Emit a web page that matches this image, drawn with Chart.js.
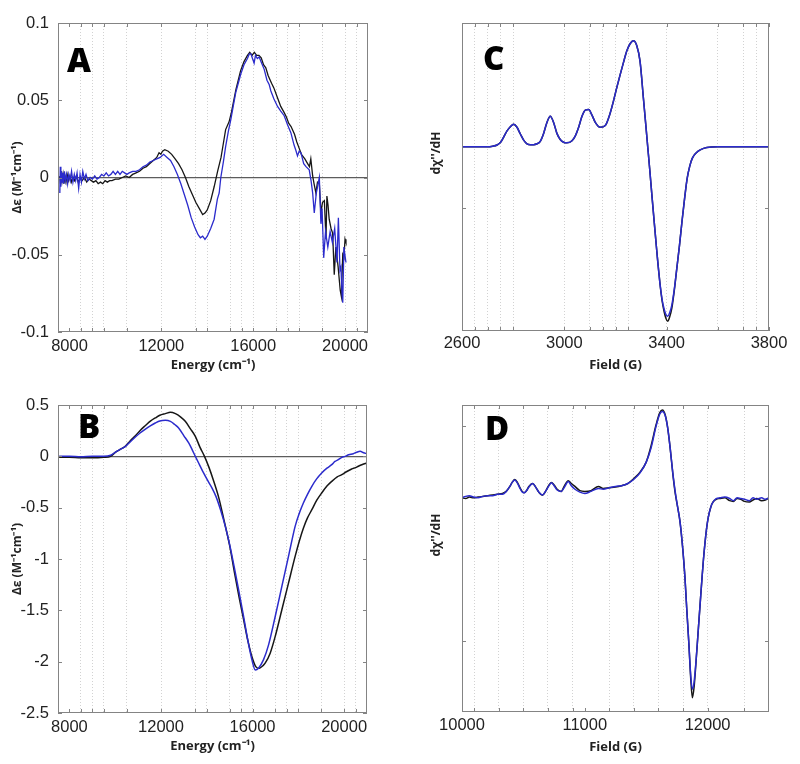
<!DOCTYPE html>
<html>
<head>
<meta charset="utf-8">
<script src="https://cdn.jsdelivr.net/npm/chart.js@4.4.0/dist/chart.umd.min.js"></script>
<style>
  body { margin: 0; background: #fff; }
  #wrap { position: relative; width: 800px; height: 764px; }
  canvas { position: absolute; }
  .lbl { position: absolute; font-family: "Open Sans", sans-serif; font-weight: 800; font-size: 33px; line-height: 1; color: #000; }
  .ytl { position: absolute; font-family: "Open Sans", sans-serif; font-weight: 700; font-size: 12px; color: #222;
         white-space: nowrap; transform: translate(-50%, -50%) rotate(-90deg); }
</style>
</head>
<body>
<div id="wrap">
  <canvas id="cA" width="400" height="382" style="left:0;top:0"></canvas>
  <canvas id="cC" width="400" height="382" style="left:400px;top:0"></canvas>
  <canvas id="cB" width="400" height="382" style="left:0;top:382px"></canvas>
  <canvas id="cD" width="400" height="382" style="left:400px;top:382px"></canvas>
  <div class="lbl" style="left:67px;top:43px">A</div>
  <div class="lbl" style="left:483px;top:41px">C</div>
  <div class="lbl" style="left:78px;top:409px">B</div>
  <div class="lbl" style="left:485px;top:411px">D</div>
  <div class="ytl" style="left:435px;top:153px">dχ''/dH</div>
  <div class="ytl" style="left:435px;top:535px">dχ''/dH</div>
</div>
<script>
// ---- panel A: CD, black and blue traces ----
var energyAk = [7580,7610,7640,7680,7720,7760,7800,7850,7900,7960,8020,8080,8150,8220,8300,8380,8460,8550,8650,8750,8850,8950,9050,9150,9250,9350,9450,9550,9650,9750,9850,10000,10150,10300,10450,10600,10750,10900,11050,11200,11350,11500,11650,11800,11900,11980,12050,12150,12300,12450,12600,12750,12900,13050,13200,13350,13500,13650,13800,13900,14000,14150,14300,14450,14600,14700,14800,14950,15050,15250,15450,15600,15750,15850,15950,16050,16150,16250,16350,16450,16550,16650,16800,16900,17050,17200,17350,17450,17550,17650,17800,17900,18000,18100,18250,18370,18450,18510,18590,18650,18730,18800,18880,18950,19020,19100,19170,19210,19260,19310,19390,19460,19530,19600,19700,19790,19840,19900,19950,20000,20040];
var deltaAk = [0.001,-0.004,0.004,-0.002,0.002,-0.004,0.001,-0.003,0.002,-0.002,0.001,-0.003,0.000,-0.002,0.001,-0.003,-0.001,-0.002,0.000,-0.003,-0.001,-0.002,-0.003,-0.002,-0.004,-0.003,-0.004,-0.002,-0.003,-0.002,-0.002,-0.001,-0.001,0.000,0.001,0.000,0.002,0.003,0.004,0.006,0.007,0.009,0.011,0.013,0.016,0.015,0.017,0.018,0.017,0.015,0.012,0.009,0.005,0.000,-0.006,-0.011,-0.016,-0.020,-0.024,-0.023,-0.021,-0.015,-0.006,0.004,0.013,0.022,0.031,0.036,0.042,0.057,0.069,0.075,0.079,0.081,0.079,0.081,0.079,0.079,0.0775,0.073,0.071,0.066,0.061,0.058,0.052,0.046,0.042,0.039,0.035,0.033,0.028,0.023,0.019,0.015,0.012,0.009,0.007,0.012,0.001,-0.004,-0.010,-0.003,-0.004,-0.023,-0.016,-0.015,-0.040,-0.012,-0.018,-0.027,-0.033,-0.036,-0.063,-0.045,-0.058,-0.073,-0.077,-0.050,-0.052,-0.040,-0.042];
var energyAb = [7580,7600,7625,7650,7680,7710,7740,7780,7820,7870,7920,7970,8030,8090,8150,8210,8270,8330,8400,8460,8520,8580,8650,8720,8800,8900,9000,9100,9200,9300,9400,9500,9600,9700,9800,9900,10000,10100,10200,10300,10400,10500,10600,10750,10900,11050,11200,11350,11500,11650,11800,11950,12100,12250,12400,12550,12700,12850,13000,13150,13300,13450,13600,13700,13800,13900,14000,14150,14300,14440,14520,14590,14700,14800,14920,15020,15130,15240,15350,15460,15600,15750,15830,15900,15970,16040,16100,16180,16260,16370,16480,16600,16700,16770,16900,17060,17200,17350,17500,17640,17780,17850,17930,18000,18080,18200,18300,18440,18520,18590,18660,18750,18880,18950,19000,19070,19150,19250,19350,19450,19550,19650,19710,19780,19820,19870,19900,19950,20040];
var deltaAb = [-0.010,0.007,-0.006,0.004,-0.003,0.003,-0.004,0.004,-0.002,0.002,-0.004,0.002,-0.002,0.004,-0.003,0.002,-0.002,0.003,-0.007,0.002,-0.003,0.004,-0.001,0.002,-0.002,0.000,-0.001,0.001,-0.001,0.000,0.002,0.001,0.003,0.001,0.002,0.004,0.002,0.004,0.002,0.004,0.003,0.002,0.003,0.004,0.004,0.005,0.007,0.008,0.010,0.011,0.012,0.013,0.015,0.013,0.011,0.007,0.002,-0.004,-0.011,-0.018,-0.026,-0.032,-0.037,-0.039,-0.038,-0.040,-0.038,-0.033,-0.027,-0.014,-0.010,0.000,0.010,0.020,0.030,0.037,0.046,0.055,0.061,0.067,0.073,0.077,0.080,0.080,0.077,0.074,0.079,0.077,0.078,0.074,0.070,0.063,0.060,0.056,0.051,0.046,0.043,0.040,0.034,0.029,0.021,0.018,0.014,0.017,0.016,0.009,0.007,0.005,-0.002,-0.010,-0.023,-0.010,0.000,-0.030,-0.020,-0.052,-0.035,-0.045,-0.035,-0.042,-0.033,-0.055,-0.026,-0.060,-0.058,-0.075,-0.081,-0.045,-0.055];

// ---- panel B ----
var energyBk = [7550,8000,8500,9000,9500,9800,10000,10200,10450,10650,10880,11100,11320,11550,11750,11950,12190,12410,12630,12850,13060,13280,13500,13700,13900,14100,14300,14520,14750,15000,15200,15400,15600,15800,15970,16120,16250,16330,16450,16550,16770,16990,17280,17570,17860,18050,18220,18400,18590,18800,19020,19250,19460,19700,19900,20100,20330,20500,20620,20800,20990];
var deltaBk = [-0.01,-0.01,-0.015,-0.015,-0.01,0.0,0.039,0.065,0.10,0.15,0.20,0.255,0.30,0.345,0.374,0.40,0.416,0.429,0.416,0.385,0.341,0.27,0.195,0.09,0.0,-0.11,-0.24,-0.40,-0.62,-0.87,-1.12,-1.36,-1.58,-1.80,-1.95,-2.04,-2.065,-2.06,-2.04,-2.015,-1.917,-1.754,-1.494,-1.235,-0.975,-0.82,-0.70,-0.60,-0.52,-0.43,-0.357,-0.29,-0.244,-0.20,-0.179,-0.15,-0.123,-0.11,-0.097,-0.08,-0.065];
var energyBb = [7550,8000,8500,9000,9500,9800,10000,10200,10450,10650,10880,11100,11320,11550,11750,11950,12190,12410,12600,12770,13000,13210,13350,13500,13700,13860,14050,14230,14400,14600,14810,15000,15200,15400,15600,15800,15970,16120,16260,16480,16700,16990,17280,17570,17860,18050,18220,18400,18590,18800,19020,19250,19460,19600,19750,19900,20040,20200,20400,20550,20700,20850,20990];
var deltaBb = [0.0,0.0,-0.005,0.0,0.0,0.01,0.039,0.065,0.097,0.14,0.188,0.23,0.266,0.30,0.325,0.345,0.351,0.341,0.31,0.276,0.20,0.13,0.07,0.0,-0.09,-0.162,-0.24,-0.309,-0.39,-0.52,-0.682,-0.86,-1.08,-1.31,-1.55,-1.80,-1.98,-2.08,-2.063,-1.98,-1.836,-1.56,-1.267,-0.975,-0.682,-0.55,-0.455,-0.37,-0.292,-0.22,-0.162,-0.115,-0.081,-0.05,-0.032,-0.01,0.0,0.015,0.026,0.04,0.049,0.035,0.026];

// ---- panel C: EPR (X band) ----
var fieldC = [2600,2700,2720,2737,2750,2763,2776,2789,2802,2815,2828,2841,2854,2867,2880,2893,2906,2919,2932,2945,2958,2971,2984,2997,3010,3030,3043,3056,3069,3082,3095,3108,3121,3140,3160,3179,3192,3205,3218,3231,3244,3257,3270,3283,3296,3309,3318,3326,3334,3342,3350,3358,3366,3374,3382,3390,3397,3404,3411,3420,3430,3440,3450,3460,3470,3480,3490,3500,3515,3531,3557,3600,3700,3800];
var signalCk = [0,0,0.01,0.03,0.07,0.16,0.26,0.33,0.37,0.32,0.21,0.11,0.05,0.035,0.035,0.05,0.09,0.22,0.40,0.50,0.40,0.22,0.12,0.075,0.065,0.10,0.18,0.32,0.50,0.60,0.61,0.52,0.40,0.32,0.35,0.55,0.75,0.97,1.18,1.38,1.57,1.69,1.74,1.66,1.40,0.80,0.38,0.0,-0.38,-0.78,-1.17,-1.55,-1.92,-2.25,-2.52,-2.70,-2.81,-2.86,-2.80,-2.65,-2.35,-1.98,-1.62,-1.22,-0.85,-0.52,-0.32,-0.19,-0.10,-0.05,-0.01,0,0,0];
var signalCb = [0,0,0.01,0.03,0.07,0.16,0.26,0.33,0.37,0.32,0.21,0.11,0.05,0.035,0.035,0.05,0.09,0.22,0.40,0.50,0.40,0.22,0.12,0.075,0.065,0.10,0.18,0.32,0.50,0.60,0.61,0.52,0.40,0.32,0.35,0.55,0.75,0.97,1.18,1.38,1.57,1.69,1.74,1.66,1.40,0.80,0.38,0.0,-0.38,-0.78,-1.17,-1.55,-1.92,-2.25,-2.50,-2.66,-2.75,-2.78,-2.73,-2.60,-2.33,-1.98,-1.62,-1.22,-0.85,-0.52,-0.32,-0.19,-0.10,-0.05,-0.01,0,0,0];

// ---- panel D: EPR (Q band) ----
var fieldD = [10000,10030,10060,10095,10130,10170,10210,10250,10290,10330,10360,10390,10410,10430,10450,10470,10490,10505,10525,10545,10575,10600,10625,10655,10680,10705,10728,10750,10775,10808,10835,10865,10890,10920,10960,11000,11050,11111,11150,11200,11250,11300,11350,11400,11450,11500,11540,11580,11610,11632,11655,11675,11695,11716,11735,11755,11775,11798,11815,11830,11847,11863,11876,11890,11905,11920,11944,11971,11998,12034,12070,12100,12140,12180,12210,12240,12270,12300,12340,12370,12400,12440,12470,12500];
var signalDk = [0.0,-0.01,0.01,0.0,0.01,0.02,0.03,0.04,0.05,0.06,0.09,0.16,0.22,0.255,0.22,0.15,0.09,0.07,0.10,0.16,0.20,0.15,0.08,0.035,0.09,0.17,0.215,0.18,0.12,0.09,0.17,0.24,0.20,0.16,0.10,0.09,0.10,0.16,0.13,0.14,0.15,0.17,0.20,0.27,0.36,0.50,0.73,1.02,1.19,1.23,1.16,0.98,0.70,0.35,0.08,-0.12,-0.33,-0.72,-1.10,-1.55,-2.03,-2.54,-2.80,-2.65,-2.32,-1.95,-1.37,-0.77,-0.35,-0.09,-0.02,-0.01,0.0,-0.04,-0.05,-0.01,-0.02,-0.05,-0.06,-0.03,-0.01,-0.04,-0.03,0.0];
var signalDb = [0.0,0.02,0.03,0.01,0.0,0.02,0.03,0.03,0.05,0.05,0.09,0.16,0.22,0.25,0.21,0.14,0.08,0.07,0.10,0.15,0.20,0.15,0.08,0.04,0.09,0.16,0.21,0.17,0.11,0.09,0.15,0.23,0.17,0.12,0.08,0.06,0.09,0.13,0.12,0.14,0.16,0.17,0.20,0.26,0.35,0.50,0.70,1.00,1.17,1.21,1.15,0.98,0.70,0.36,0.10,-0.12,-0.33,-0.72,-1.10,-1.55,-2.03,-2.50,-2.68,-2.58,-2.30,-1.95,-1.37,-0.77,-0.35,-0.09,-0.01,0.0,0.01,-0.01,-0.04,0.0,-0.01,-0.02,-0.04,0.0,-0.02,0.0,-0.02,0.0];

// ---- ticks ----
var energyTicks = [8000, 12000, 16000, 20000];
var energyGrid = [8500, 9000, 9500, 10500, 12000, 13500, 14000, 15000, 15500, 16000, 17000, 17500, 18000, 19000, 20000, 20500];
var yTicksA = [-0.1, -0.05, 0, 0.05, 0.1];
var yTicksB = [-2.5, -2, -1.5, -1, -0.5, 0, 0.5];
var fieldTicksC = [2600, 3000, 3400, 3800];
var fieldGridC = [2650, 2700, 2750, 2800, 3000, 3100, 3150, 3200, 3250, 3400, 3600, 3700, 3750];
var yTicksC = [-1];
var fieldTicksD = [10000, 11000, 12000];
var fieldGridD = [10100, 10300, 10500, 10700, 10900, 11200, 11400, 11600, 11800, 12000, 12300];
var yTicksD = [-2, 1];

var BLUE = '#2b2bcc', BLACK = '#161616';
Chart.defaults.font.family = '"Liberation Sans", Arial, sans-serif';
Chart.defaults.color = '#222';

function pts(xs, ys) {
  var out = [];
  for (var i = 0; i < Math.min(xs.length, ys.length); i++) out.push({x: xs[i], y: ys[i]});
  return out;
}

// box round the plot and small inward tick marks on all four sides
var frame = {
  id: 'frame',
  afterDatasetsDraw: function(chart) {
    var ctx = chart.ctx, a = chart.chartArea, x = chart.scales.x, y = chart.scales.y;
    ctx.save();
    ctx.strokeStyle = '#848484';
    ctx.lineWidth = 1;
    ctx.beginPath();
    x.ticks.forEach(function(t) {
      var p = Math.round(x.getPixelForValue(t.value)) + 0.5;
      ctx.moveTo(p, a.bottom); ctx.lineTo(p, a.bottom - 4);
      ctx.moveTo(p, a.top); ctx.lineTo(p, a.top + 4);
    });
    y.ticks.forEach(function(t) {
      var p = Math.round(y.getPixelForValue(t.value)) + 0.5;
      ctx.moveTo(a.left, p); ctx.lineTo(a.left + 4, p);
      ctx.moveTo(a.right, p); ctx.lineTo(a.right - 4, p);
    });
    ctx.stroke();
    ctx.strokeRect(Math.round(a.left) + 0.5, Math.round(a.top) + 0.5, Math.round(a.width) - 1, Math.round(a.height) - 1);
    ctx.restore();
  }
};

function makePanel(id, o) {
  var xTicks = o.xMajor.concat(o.xGrid).filter(function(v, i, arr) { return arr.indexOf(v) === i; }).sort(function(a, b) { return a - b; });
  var titleFont = {family: '"Open Sans", sans-serif', weight: 'bold', size: 13};
  return new Chart(document.getElementById(id), {
    type: 'line',
    data: {
      datasets: [
        {data: pts(o.bx, o.by), borderColor: BLUE, borderWidth: o.lw, pointRadius: 0, order: 0,
         cubicInterpolationMode: o.smooth ? 'monotone' : 'default'},
        {data: pts(o.kx, o.ky), borderColor: BLACK, borderWidth: o.lw, pointRadius: 0, order: 1,
         cubicInterpolationMode: o.smooth ? 'monotone' : 'default'}
      ]
    },
    options: {
      responsive: false,
      animation: false,
      events: [],
      layout: {padding: o.pad},
      plugins: {legend: {display: false}, tooltip: {enabled: false}},
      scales: {
        x: {
          type: 'linear', min: o.xMin, max: o.xMax,
          afterFit: function(s) { s.height = o.xH; },
          afterBuildTicks: function(s) { s.ticks = xTicks.map(function(v) { return {value: v}; }); },
          ticks: {autoSkip: false, maxRotation: 0, minRotation: 0, padding: o.xPad, font: {size: 16.5}, color: '#222',
                  callback: function(v) { return o.xMajor.indexOf(v) >= 0 ? String(v) : ''; }},
          grid: {drawTicks: false, lineWidth: 1,
                 color: function(c) { return c.tick && o.xGrid.indexOf(c.tick.value) >= 0 ? '#d2d2d2' : 'rgba(0,0,0,0)'; }},
          border: {display: false, dash: [1, 2]},
          title: {display: true, text: o.xTitle, font: titleFont, color: '#222', padding: {top: 0, bottom: o.xTitlePad}}
        },
        y: {
          min: o.yMin, max: o.yMax,
          afterFit: function(s) { s.width = o.yW; },
          afterBuildTicks: function(s) { s.ticks = o.yTicks.map(function(v) { return {value: v}; }); },
          ticks: {display: !!o.yTitle, padding: 9, font: {size: 16.5}, color: '#222',
                  callback: function(v) { return String(v); }},
          grid: {drawTicks: false, lineWidth: 1.2,
                 color: function(c) { return o.zeroLine && c.tick && c.tick.value === 0 ? '#5c5c5c' : 'rgba(0,0,0,0)'; }},
          border: {display: false},
          title: {display: !!o.yTitle, text: o.yTitle, font: {family: '"Open Sans", sans-serif', weight: 'bold', size: 12},
                  color: '#222', padding: {top: 10, bottom: 0}}
        }
      }
    },
    plugins: [frame]
  });
}

makePanel('cA', {
  kx: energyAk, ky: deltaAk, bx: energyAb, by: deltaAb, lw: 1.3, smooth: false,
  xMin: 7500, xMax: 21000, xMajor: energyTicks, xGrid: energyGrid,
  yMin: -0.1, yMax: 0.1, yTicks: yTicksA, zeroLine: true,
  xTitle: 'Energy (cm⁻¹)', yTitle: 'Δε (M⁻¹cm⁻¹)',
  pad: {left: 0, right: 32, top: 23, bottom: 0}, yW: 58, xH: 50, xPad: 5, xTitlePad: 9
});
makePanel('cB', {
  kx: energyBk, ky: deltaBk, bx: energyBb, by: deltaBb, lw: 1.5, smooth: true,
  xMin: 7500, xMax: 21000, xMajor: energyTicks, xGrid: energyGrid,
  yMin: -2.5, yMax: 0.5, yTicks: yTicksB, zeroLine: true,
  xTitle: 'Energy (cm⁻¹)', yTitle: 'Δε (M⁻¹cm⁻¹)',
  pad: {left: 0, right: 33, top: 23, bottom: 0}, yW: 58, xH: 51, xPad: 5, xTitlePad: 10
});
makePanel('cC', {
  kx: fieldC, ky: signalCk, bx: fieldC, by: signalCb, lw: 1.5, smooth: true,
  xMin: 2600, xMax: 3800, xMajor: fieldTicksC, xGrid: fieldGridC,
  yMin: -3.02, yMax: 2.03, yTicks: yTicksC, zeroLine: false,
  xTitle: 'Field (G)', yTitle: '',
  pad: {left: 0, right: 31, top: 23, bottom: 0}, yW: 62, xH: 51, xPad: 3, xTitlePad: 9
});
makePanel('cD', {
  kx: fieldD, ky: signalDk, bx: fieldD, by: signalDb, lw: 1.5, smooth: true,
  xMin: 10000, xMax: 12500, xMajor: fieldTicksD, xGrid: fieldGridD,
  yMin: -3.0, yMax: 1.3, yTicks: yTicksD, zeroLine: false,
  xTitle: 'Field (G)', yTitle: '',
  pad: {left: 0, right: 31, top: 23, bottom: 0}, yW: 62, xH: 52, xPad: 4, xTitlePad: 9
});
</script>
</body>
</html>
